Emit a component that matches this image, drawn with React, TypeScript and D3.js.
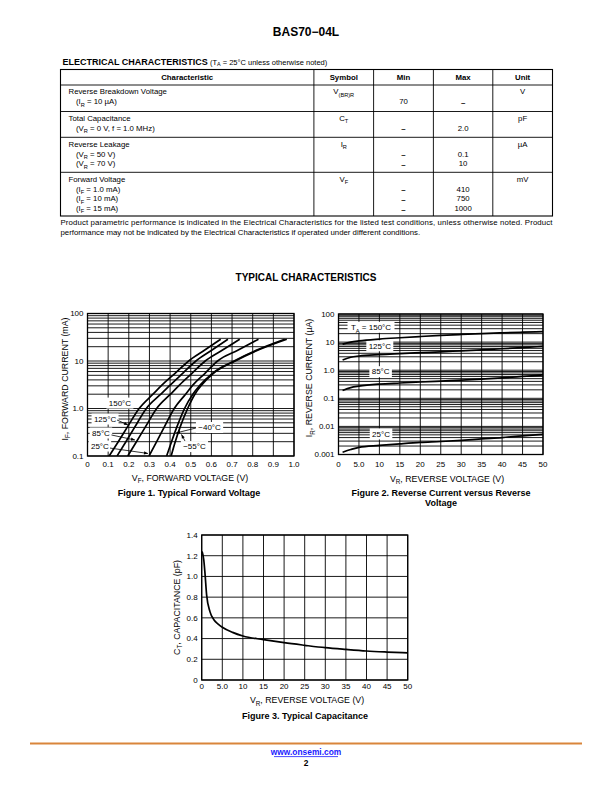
import React from "react";
import * as d3 from "d3";

const FONT = "'Liberation Sans', Arial, Helvetica, sans-serif";

// ---------------- Page / table text ----------------
const pageTitle = "BAS70\u221204L";
const tableHeaders = ["Characteristic", "Symbol", "Min", "Max", "Unit"];
const charLines = [
  ["Reverse Breakdown Voltage", "(I_{R} = 10 \u00B5A)"],
  ["Total Capacitance", "(V_{R} = 0 V, f = 1.0 MHz)"],
  ["Reverse Leakage", "(V_{R} = 50 V)", "(V_{R} = 70 V)"],
  ["Forward Voltage", "(I_{F} = 1.0 mA)", "(I_{F} = 10 mA)", "(I_{F} = 15 mA)"],
];
const symbols = ["V_{(BR)R}", "C_{T}", "I_{R}", "V_{F}"];
const minVals = [["", "70"], ["", "\u2013"], ["", "\u2013", "\u2013"], ["", "\u2013", "\u2013", "\u2013"]];
const maxVals = [["", "\u2013"], ["", "2.0"], ["", "0.1", "10"], ["", "410", "750", "1000"]];
const units = ["V", "pF", "\u00B5A", "mV"];
const noteLines = [
  "Product parametric performance is indicated in the Electrical Characteristics for the listed test conditions, unless otherwise noted. Product",
  "performance may not be indicated by the Electrical Characteristics if operated under different conditions.",
];

// ---------------- Figure 1 data (VF in V, IF in mA) ----------------
const f1Temps = ["150\u00B0C", "125\u00B0C", "85\u00B0C", "25\u00B0C", "\u221240\u00B0C", "\u221255\u00B0C"];
const f1Current = [0.1, 0.2, 0.4, 1, 2, 3.1, 5.5, 10, 17, 28.7];
const f1V150 = [0.105, 0.149, 0.192, 0.25, 0.317, 0.36, 0.424, 0.49, 0.568, 0.645];
const f1V125 = [0.143, 0.186, 0.228, 0.285, 0.355, 0.4, 0.461, 0.525, 0.603, 0.68];
const f1V85 = [0.195, 0.237, 0.279, 0.335, 0.402, 0.445, 0.506, 0.57, 0.654, 0.737];
const f1V25 = [0.298, 0.335, 0.371, 0.42, 0.475, 0.51, 0.569, 0.63, 0.73, 0.828];
const f1Vm40 = [0.383, 0.407, 0.432, 0.47, 0.51, 0.545, 0.605, 0.71, 0.82, 0.955];
const f1Vm55 = [0.405, 0.425, 0.448, 0.485, 0.52, 0.552, 0.61, 0.715, 0.827, 0.965];
const f1XTicks = [0, 0.1, 0.2, 0.3, 0.4, 0.5, 0.6, 0.7, 0.8, 0.9, 1.0];
const f1XTickLabels = ["0", "0.1", "0.2", "0.3", "0.4", "0.5", "0.6", "0.7", "0.8", "0.9", "1.0"];
const f1YTicks = [0.1, 1, 10, 100];
const f1YTickLabels = ["0.1", "1.0", "10", "100"];
// label anchors in data units [V, mA]
const f1LabelPos = [[0.157, 1.3], [0.085, 0.6], [0.065, 0.305], [0.06, 0.162], [0.591, 0.398], [0.518, 0.158]];
// arrows [fromV, fromI, toV, toI]; null = no arrow
const f1Arrows = [null, [0.143, 0.573, 0.196, 0.45], [0.116, 0.277, 0.23, 0.217], [0.109, 0.147, 0.293, 0.113], [0.525, 0.388, 0.429, 0.305], [0.472, 0.207, 0.455, 0.285]];

// ---------------- Figure 2 data (VR in V, IR in uA) ----------------
const f2Temps = ["T_{A} = 150\u00B0C", "125\u00B0C", "85\u00B0C", "25\u00B0C"];
const f2Voltage = [1, 3, 5, 10, 15, 20, 25, 30, 35, 40, 45, 50];
const f2I150 = [8.5, 10, 11, 12.8, 14.3, 15.8, 17.3, 18.7, 20, 21.3, 22.5, 23.5];
const f2I125 = [2.3, 2.9, 3.2, 3.6, 3.9, 4.2, 4.5, 4.9, 5.3, 5.8, 6.4, 7.0];
const f2I85 = [0.19, 0.24, 0.27, 0.32, 0.35, 0.38, 0.41, 0.44, 0.48, 0.53, 0.6, 0.68];
const f2I25 = [0.0012, 0.0015, 0.0018, 0.0021, 0.0024, 0.0027, 0.0029, 0.0032, 0.0036, 0.004, 0.0046, 0.0052];
const f2XTicks = [0, 5, 10, 15, 20, 25, 30, 35, 40, 45, 50];
const f2XTickLabels = ["0", "5.0", "10", "15", "20", "25", "30", "35", "40", "45", "50"];
const f2YTicks = [0.001, 0.01, 0.1, 1, 10, 100];
const f2YTickLabels = ["0.001", "0.01", "0.1", "1.0", "10", "100"];
const f2LabelPos = [[7.95, 33.6], [10.1, 7.4], [10.3, 0.885], [10.4, 0.0054]];

// ---------------- Figure 3 data (VR in V, CT in pF) ----------------
const f3Voltage = [0.1, 0.5, 0.8, 1.2, 2, 3, 4, 5, 7.5, 10, 15, 20, 25, 30, 35, 40, 45, 50];
const f3Cap = [1.24, 1.16, 1.03, 0.82, 0.66, 0.58, 0.54, 0.51, 0.46, 0.425, 0.39, 0.36, 0.335, 0.312, 0.295, 0.28, 0.27, 0.262];
const f3XTicks = [0, 5, 10, 15, 20, 25, 30, 35, 40, 45, 50];
const f3XTickLabels = ["0", "5.0", "10", "15", "20", "25", "30", "35", "40", "45", "50"];
const f3YTicks = [0, 0.2, 0.4, 0.6, 0.8, 1.0, 1.2, 1.4];
const f3YTickLabels = ["0", "0.2", "0.4", "0.6", "0.8", "1.0", "1.2", "1.4"];

// ---------------- axis / caption texts ----------------
const f1YTitle = "I_{F}, FORWARD CURRENT (mA)";
const f1XTitle = "V_{F}, FORWARD VOLTAGE (V)";
const f1Caption = "Figure 1. Typical Forward Voltage";
const f2YTitle = "I_{R}, REVERSE CURRENT (\u00B5A)";
const f2XTitle = "V_{R}, REVERSE VOLTAGE (V)";
const f2Caption = ["Figure 2. Reverse Current versus Reverse", "Voltage"];
const f3YTitle = "C_{T}, CAPACITANCE (pF)";
const f3XTitle = "V_{R}, REVERSE VOLTAGE (V)";
const f3Caption = "Figure 3. Typical Capacitance";

// ---------------- helpers ----------------
function Rich({ s, fs }: { s: string; fs: number }) {
  const parts = s.split(/(_\{[^}]*\})/).filter((p) => p.length > 0);
  const out: any[] = [];
  let sub = false;
  parts.forEach((p, i) => {
    if (p.startsWith("_{")) {
      out.push(
        <tspan key={i} fontSize={fs * 0.72} dy={fs * 0.3}>
          {p.slice(2, -1)}
        </tspan>
      );
      sub = true;
    } else {
      out.push(
        <tspan key={i} dy={sub ? -fs * 0.3 : 0}>
          {p}
        </tspan>
      );
      sub = false;
    }
  });
  return <>{out}</>;
}

function approxWidth(s: string, fs: number) {
  const plain = s.replace(/_\{([^}]*)\}/g, "$1");
  let w = 0;
  for (const c of plain) {
    if (/[0-9]/.test(c)) w += 0.556;
    else if (c === " ") w += 0.278;
    else if (c === "\u00B0") w += 0.4;
    else if (c === "\u2212") w += 0.584;
    else if (c === "=") w += 0.584;
    else if (c === ".") w += 0.278;
    else w += 0.68;
  }
  return w * fs;
}

function logGrid(lo: number, hi: number) {
  const v: number[] = [];
  let d = lo;
  while (d < hi * 0.999) {
    for (let k = 1; k < 10; k++) v.push(d * k);
    d = d * 10;
  }
  v.push(hi);
  return v;
}

const TICK_FS = 8;
const TITLE_FS = 8.8;
const CAP_FS = 9;
const LABEL_FS = 8;
const GRID_W = 0.9;

function Frame({ x, y, xTicks, yTicks, yLog }: any) {
  const [x0, x1] = x.range();
  const [y0, y1] = y.range();
  const yGrid = yLog ? logGrid(y.domain()[0], y.domain()[1]) : yTicks;
  return (
    <g>
      {xTicks.map((t: number, i: number) => (
        <line key={"vx" + i} x1={x(t)} x2={x(t)} y1={y0} y2={y1} stroke="#000" strokeWidth={GRID_W} />
      ))}
      {yGrid.map((t: number, i: number) => (
        <line key={"hy" + i} x1={x0} x2={x1} y1={y(t)} y2={y(t)} stroke="#000" strokeWidth={GRID_W} />
      ))}
    </g>
  );
}

function Border({ x, y }: any) {
  const [x0, x1] = x.range();
  const [y0, y1] = y.range();
  return <rect x={x0} y={y1} width={x1 - x0} height={y0 - y1} fill="none" stroke="#000" strokeWidth={1.3} />;
}

function TickLabels({ x, y, xTicks, xLabels, yTicks, yLabels, xBase }: any) {
  const [x0] = x.range();
  return (
    <g fontSize={TICK_FS} fill="#000">
      {xTicks.map((t: number, i: number) => (
        <text key={"xl" + i} x={x(t)} y={xBase} textAnchor="middle">
          {xLabels[i]}
        </text>
      ))}
      {yTicks.map((t: number, i: number) => (
        <text key={"yl" + i} x={x0 - 4} y={y(t) + 2.8} textAnchor="end">
          {yLabels[i]}
        </text>
      ))}
    </g>
  );
}

function BoxLabel({ cx, cy, s, fs }: { cx: number; cy: number; s: string; fs: number }) {
  const w = approxWidth(s, fs) + 5;
  return (
    <g>
      <rect x={cx - w / 2} y={cy - 5.5} width={w} height={11} fill="#fff" />
      <text x={cx} y={cy + 2.8} textAnchor="middle" fontSize={fs}>
        <Rich s={s} fs={fs} />
      </text>
    </g>
  );
}

// ---------------- Header + table ----------------
function Header() {
  const colX = [60.5, 313.9, 373.6, 433.4, 492.8, 552.5];
  const rowTops = [85, 111.5, 137.3, 172.3];
  const tableTop = 69.5;
  const tableBottom = 216;
  const fs = 7.8;
  const lh = 9.8;
  const cx = (i: number) => (colX[i] + colX[i + 1]) / 2;
  return (
    <g fill="#000">
      <text x={306} y={35.5} textAnchor="middle" fontSize={12} fontWeight="bold">
        {pageTitle}
      </text>
      <text x={62.5} y={64.5} fontSize={9} fontWeight="bold">
        ELECTRICAL CHARACTERISTICS
        <tspan fontWeight="normal" fontSize={7.5}> (T</tspan>
        <tspan fontWeight="normal" fontSize={5.4} dy={1.8}>A</tspan>
        <tspan fontWeight="normal" fontSize={7.5} dy={-1.8}> = 25{"\u00B0"}C unless otherwise noted)</tspan>
      </text>
      <rect x={colX[0]} y={tableTop} width={colX[5] - colX[0]} height={tableBottom - tableTop} fill="none" stroke="#000" strokeWidth={1.1} />
      {colX.slice(1, 5).map((x, i) => (
        <line key={"c" + i} x1={x} x2={x} y1={tableTop} y2={tableBottom} stroke="#000" strokeWidth={0.9} />
      ))}
      {rowTops.map((y, i) => (
        <line key={"r" + i} x1={colX[0]} x2={colX[5]} y1={y} y2={y} stroke="#000" strokeWidth={0.9} />
      ))}
      {tableHeaders.map((h, i) => (
        <text key={"h" + i} x={cx(i)} y={79.5} textAnchor="middle" fontSize={fs} fontWeight="bold">
          {h}
        </text>
      ))}
      {charLines.map((lines, r) => (
        <g key={"row" + r} fontSize={fs}>
          {lines.map((l, k) => (
            <text key={k} x={k === 0 ? 68.5 : 76} y={rowTops[r] + 9.4 + k * lh}>
              <Rich s={l} fs={fs} />
            </text>
          ))}
          <text x={cx(1)} y={rowTops[r] + 9.4} textAnchor="middle">
            <Rich s={symbols[r]} fs={fs} />
          </text>
          {minVals[r].map((v, k) => (
            <text key={"mn" + k} x={cx(2)} y={rowTops[r] + 9.4 + k * lh + (v === "\u2013" ? 0.6 : 0)} textAnchor="middle" fontWeight={v === "\u2013" ? "bold" : "normal"}>
              {v}
            </text>
          ))}
          {maxVals[r].map((v, k) => (
            <text key={"mx" + k} x={cx(3)} y={rowTops[r] + 9.4 + k * lh + (v === "\u2013" ? 0.6 : 0)} textAnchor="middle" fontWeight={v === "\u2013" ? "bold" : "normal"}>
              {v}
            </text>
          ))}
          <text x={cx(4)} y={rowTops[r] + 9.4} textAnchor="middle">
            {units[r]}
          </text>
        </g>
      ))}
      <text x={60.5} y={224.5} fontSize={7.8} textLength={492} lengthAdjust="spacing">
        {noteLines[0]}
      </text>
      <text x={60.5} y={234.5} fontSize={7.8}>
        {noteLines[1]}
      </text>
      <text x={306} y={281} textAnchor="middle" fontSize={10} fontWeight="bold">
        TYPICAL CHARACTERISTICS
      </text>
    </g>
  );
}

// ---------------- Figure 1 ----------------
function Fig1() {
  const x = d3.scaleLinear().domain([0, 1]).range([87.5, 294]);
  const y = d3.scaleLog().domain([0.1, 100]).range([456, 313.5]);
  const line = d3
    .line<[number, number]>()
    .x((d) => x(d[0]))
    .y((d) => y(d[1]))
    .curve(d3.curveMonotoneX);
  const series = [f1V150, f1V125, f1V85, f1V25, f1Vm40, f1Vm55];
  return (
    <g>
      <Frame x={x} y={y} xTicks={f1XTicks} yTicks={f1YTicks} yLog />
      {f1Temps.map((t, i) => (
        <BoxLabel key={"lb" + i} cx={x(f1LabelPos[i][0])} cy={y(f1LabelPos[i][1])} s={t} fs={LABEL_FS} />
      ))}
      <g clipPath="url(#clip1)">
        {series.map((vs, i) => (
          <path key={"s" + i} d={line(vs.map((v, k) => [v, f1Current[k]]) as any) || ""} fill="none" stroke="#000" strokeWidth={1.7} />
        ))}
      </g>
      {f1Arrows.map((a, i) =>
        a ? (
          <line key={"a" + i} x1={x(a[0])} y1={y(a[1])} x2={x(a[2])} y2={y(a[3])} stroke="#000" strokeWidth={0.8} markerEnd="url(#arrowHead)" />
        ) : null
      )}
      <Border x={x} y={y} />
      <TickLabels x={x} y={y} xTicks={f1XTicks} xLabels={f1XTickLabels} yTicks={f1YTicks} yLabels={f1YTickLabels} xBase={466.5} />
      <text transform="translate(67.5,379) rotate(-90)" textAnchor="middle" fontSize={TITLE_FS}>
        <Rich s={f1YTitle} fs={TITLE_FS} />
      </text>
      <text x={190} y={480.5} textAnchor="middle" fontSize={TITLE_FS}>
        <Rich s={f1XTitle} fs={TITLE_FS} />
      </text>
      <text x={189} y={496} textAnchor="middle" fontSize={CAP_FS} fontWeight="bold">
        {f1Caption}
      </text>
    </g>
  );
}

// ---------------- Figure 2 ----------------
function Fig2() {
  const x = d3.scaleLinear().domain([0, 50]).range([338.5, 543]);
  const y = d3.scaleLog().domain([0.001, 100]).range([454.5, 314]);
  const line = d3
    .line<[number, number]>()
    .x((d) => x(d[0]))
    .y((d) => y(d[1]))
    .curve(d3.curveMonotoneX);
  const series = [f2I150, f2I125, f2I85, f2I25];
  return (
    <g>
      <Frame x={x} y={y} xTicks={f2XTicks} yTicks={f2YTicks} yLog />
      {f2Temps.map((t, i) => (
        <BoxLabel key={"lb" + i} cx={x(f2LabelPos[i][0])} cy={y(f2LabelPos[i][1])} s={t} fs={LABEL_FS} />
      ))}
      {series.map((is, i) => (
        <path key={"s" + i} d={line(f2Voltage.map((v, k) => [v, is[k]]) as any) || ""} fill="none" stroke="#000" strokeWidth={1.7} />
      ))}
      <Border x={x} y={y} />
      <TickLabels x={x} y={y} xTicks={f2XTicks} xLabels={f2XTickLabels} yTicks={f2YTicks} yLabels={f2YTickLabels} xBase={467} />
      <text transform="translate(312,378) rotate(-90)" textAnchor="middle" fontSize={TITLE_FS}>
        <Rich s={f2YTitle} fs={TITLE_FS} />
      </text>
      <text x={447} y={481.5} textAnchor="middle" fontSize={TITLE_FS}>
        <Rich s={f2XTitle} fs={TITLE_FS} />
      </text>
      <text x={441} y={496} textAnchor="middle" fontSize={CAP_FS} fontWeight="bold">
        {f2Caption[0]}
      </text>
      <text x={441} y={506} textAnchor="middle" fontSize={CAP_FS} fontWeight="bold">
        {f2Caption[1]}
      </text>
    </g>
  );
}

// ---------------- Figure 3 ----------------
function Fig3() {
  const x = d3.scaleLinear().domain([0, 50]).range([201.7, 407.7]);
  const y = d3.scaleLinear().domain([0, 1.4]).range([680, 535]);
  const line = d3
    .line<[number, number]>()
    .x((d) => x(d[0]))
    .y((d) => y(d[1]))
    .curve(d3.curveMonotoneX);
  return (
    <g>
      <Frame x={x} y={y} xTicks={f3XTicks} yTicks={f3YTicks} />
      <path d={line(f3Voltage.map((v, k) => [v, f3Cap[k]]) as any) || ""} fill="none" stroke="#000" strokeWidth={1.7} />
      <Border x={x} y={y} />
      <TickLabels x={x} y={y} xTicks={f3XTicks} xLabels={f3XTickLabels} yTicks={f3YTicks} yLabels={f3YTickLabels} xBase={689} />
      <text transform="translate(179.5,607.5) rotate(-90)" textAnchor="middle" fontSize={TITLE_FS}>
        <Rich s={f3YTitle} fs={TITLE_FS} />
      </text>
      <text x={307} y={703} textAnchor="middle" fontSize={TITLE_FS}>
        <Rich s={f3XTitle} fs={TITLE_FS} />
      </text>
      <text x={305} y={719} textAnchor="middle" fontSize={CAP_FS} fontWeight="bold">
        {f3Caption}
      </text>
    </g>
  );
}

function Footer() {
  return (
    <g>
      <line x1={30} x2={582} y1={743.5} y2={743.5} stroke="#d9853b" strokeWidth={2} />
      <text x={306} y={755} textAnchor="middle" fontSize={8.4} fontWeight="bold" fill="#1a1aff">
        www.onsemi.com
      </text>
      <line x1={274} x2={338} y1={756.6} y2={756.6} stroke="#1a1aff" strokeWidth={0.8} />
      <text x={306} y={765.5} textAnchor="middle" fontSize={8.4} fontWeight="bold" fill="#000">
        2
      </text>
    </g>
  );
}

export default function App() {
  return (
    <svg
      width={612}
      height={792}
      viewBox="0 0 612 792"
      style={{ position: "absolute", left: 0, top: 0, display: "block" }}
      fontFamily={FONT}
    >
      <rect x={0} y={0} width={612} height={792} fill="#fff" />
      <defs>
        <clipPath id="clip1">
          <rect x={87.5} y={313.5} width={206.5} height={142.5} />
        </clipPath>
        <marker id="arrowHead" viewBox="0 0 10 10" refX={10} refY={5} markerUnits="userSpaceOnUse" markerWidth={5} markerHeight={4} orient="auto">
          <path d="M0,1 L10,5 L0,9 z" fill="#000" />
        </marker>
      </defs>
      <Header />
      <Fig1 />
      <Fig2 />
      <Fig3 />
      <Footer />
    </svg>
  );
}
